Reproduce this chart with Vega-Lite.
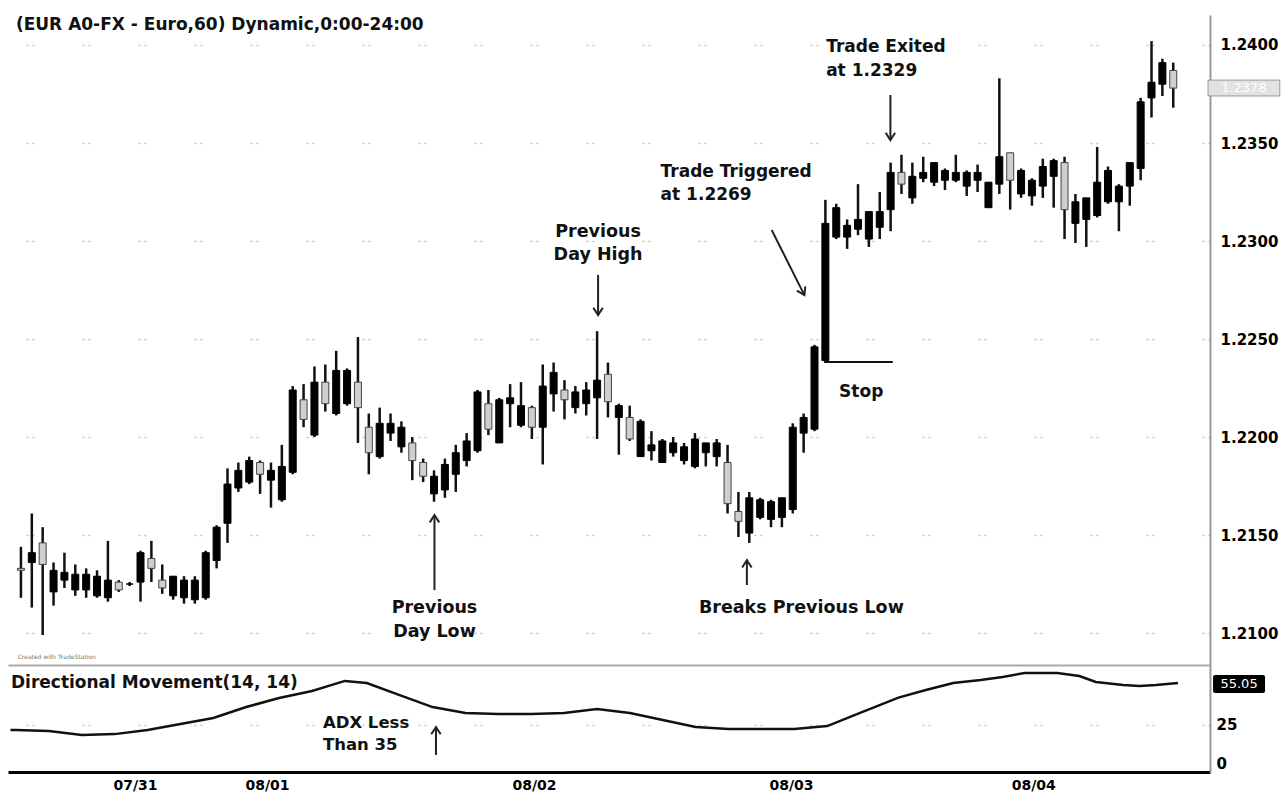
{
  "$schema": "https://vega.github.io/schema/vega-lite/v6.json",
  "background": "white",
  "padding": {"left": 5, "top": 15, "right": 0, "bottom": 0},
  "spacing": 0,
  "config": {
    "view": {"stroke": null},
    "font": "DejaVu Sans",
    "axis": {"labelFont": "DejaVu Sans", "labelFontWeight": "bold", "labelFontSize": 14, "labelColor": "#000", "ticks": false, "tickSize": 0}
  },
  "datasets": {
    "candles": [
      {"i":0,"open":1.2133,"high":1.2144,"low":1.2118,"close":1.2132},
      {"i":1,"open":1.2136,"high":1.2161,"low":1.2113,"close":1.2141},
      {"i":2,"open":1.2146,"high":1.2154,"low":1.2099,"close":1.2135},
      {"i":3,"open":1.2121,"high":1.2136,"low":1.2114,"close":1.2132},
      {"i":4,"open":1.2127,"high":1.2141,"low":1.2123,"close":1.2131},
      {"i":5,"open":1.2122,"high":1.2135,"low":1.2119,"close":1.2130},
      {"i":6,"open":1.2122,"high":1.2133,"low":1.2118,"close":1.2130},
      {"i":7,"open":1.2119,"high":1.2132,"low":1.2118,"close":1.2129},
      {"i":8,"open":1.2118,"high":1.2147,"low":1.2116,"close":1.2127},
      {"i":9,"open":1.2126,"high":1.2127,"low":1.2121,"close":1.2122},
      {"i":10,"open":1.2125,"high":1.2126,"low":1.2124,"close":1.2125},
      {"i":11,"open":1.2126,"high":1.2142,"low":1.2116,"close":1.2141},
      {"i":12,"open":1.2138,"high":1.2147,"low":1.2126,"close":1.2133},
      {"i":13,"open":1.2127,"high":1.2135,"low":1.2120,"close":1.2123},
      {"i":14,"open":1.2119,"high":1.2129,"low":1.2117,"close":1.2129},
      {"i":15,"open":1.2118,"high":1.2129,"low":1.2115,"close":1.2127},
      {"i":16,"open":1.2117,"high":1.2129,"low":1.2115,"close":1.2127},
      {"i":17,"open":1.2118,"high":1.2142,"low":1.2117,"close":1.2141},
      {"i":18,"open":1.2137,"high":1.2155,"low":1.2133,"close":1.2154},
      {"i":19,"open":1.2156,"high":1.2184,"low":1.2146,"close":1.2176},
      {"i":20,"open":1.2174,"high":1.2187,"low":1.2172,"close":1.2183},
      {"i":21,"open":1.2177,"high":1.2190,"low":1.2176,"close":1.2188},
      {"i":22,"open":1.2187,"high":1.2188,"low":1.2171,"close":1.2181},
      {"i":23,"open":1.2178,"high":1.2187,"low":1.2164,"close":1.2183},
      {"i":24,"open":1.2168,"high":1.2196,"low":1.2167,"close":1.2185},
      {"i":25,"open":1.2182,"high":1.2226,"low":1.2181,"close":1.2224},
      {"i":26,"open":1.2219,"high":1.2227,"low":1.2205,"close":1.2209},
      {"i":27,"open":1.2201,"high":1.2236,"low":1.2200,"close":1.2228},
      {"i":28,"open":1.2228,"high":1.2237,"low":1.2213,"close":1.2217},
      {"i":29,"open":1.2212,"high":1.2244,"low":1.2211,"close":1.2234},
      {"i":30,"open":1.2217,"high":1.2235,"low":1.2216,"close":1.2234},
      {"i":31,"open":1.2228,"high":1.2251,"low":1.2197,"close":1.2215},
      {"i":32,"open":1.2205,"high":1.2212,"low":1.2181,"close":1.2192},
      {"i":33,"open":1.2190,"high":1.2215,"low":1.2189,"close":1.2207},
      {"i":34,"open":1.2202,"high":1.2212,"low":1.2198,"close":1.2207},
      {"i":35,"open":1.2195,"high":1.2208,"low":1.2192,"close":1.2205},
      {"i":36,"open":1.2197,"high":1.2200,"low":1.2178,"close":1.2188},
      {"i":37,"open":1.2187,"high":1.2189,"low":1.2177,"close":1.2180},
      {"i":38,"open":1.2171,"high":1.2183,"low":1.2167,"close":1.2180},
      {"i":39,"open":1.2173,"high":1.2189,"low":1.2169,"close":1.2186},
      {"i":40,"open":1.2181,"high":1.2196,"low":1.2172,"close":1.2192},
      {"i":41,"open":1.2188,"high":1.2202,"low":1.2185,"close":1.2198},
      {"i":42,"open":1.2193,"high":1.2224,"low":1.2192,"close":1.2223},
      {"i":43,"open":1.2217,"high":1.2224,"low":1.2201,"close":1.2204},
      {"i":44,"open":1.2197,"high":1.2220,"low":1.2197,"close":1.2219},
      {"i":45,"open":1.2217,"high":1.2227,"low":1.2205,"close":1.2220},
      {"i":46,"open":1.2206,"high":1.2228,"low":1.2205,"close":1.2216},
      {"i":47,"open":1.2215,"high":1.2216,"low":1.2199,"close":1.2205},
      {"i":48,"open":1.2205,"high":1.2237,"low":1.2186,"close":1.2226},
      {"i":49,"open":1.2222,"high":1.2238,"low":1.2213,"close":1.2233},
      {"i":50,"open":1.2224,"high":1.2229,"low":1.2209,"close":1.2219},
      {"i":51,"open":1.2215,"high":1.2226,"low":1.2212,"close":1.2223},
      {"i":52,"open":1.2217,"high":1.2228,"low":1.2211,"close":1.2224},
      {"i":53,"open":1.2220,"high":1.2254,"low":1.2199,"close":1.2229},
      {"i":54,"open":1.2232,"high":1.2238,"low":1.2210,"close":1.2218},
      {"i":55,"open":1.2210,"high":1.2217,"low":1.2191,"close":1.2216},
      {"i":56,"open":1.2210,"high":1.2216,"low":1.2198,"close":1.2199},
      {"i":57,"open":1.2190,"high":1.2209,"low":1.2190,"close":1.2208},
      {"i":58,"open":1.2193,"high":1.2203,"low":1.2188,"close":1.2196},
      {"i":59,"open":1.2187,"high":1.2199,"low":1.2187,"close":1.2198},
      {"i":60,"open":1.2192,"high":1.2200,"low":1.2190,"close":1.2197},
      {"i":61,"open":1.2188,"high":1.2197,"low":1.2186,"close":1.2195},
      {"i":62,"open":1.2185,"high":1.2202,"low":1.2184,"close":1.2199},
      {"i":63,"open":1.2192,"high":1.2197,"low":1.2185,"close":1.2197},
      {"i":64,"open":1.2190,"high":1.2199,"low":1.2185,"close":1.2197},
      {"i":65,"open":1.2187,"high":1.2196,"low":1.2161,"close":1.2166},
      {"i":66,"open":1.2162,"high":1.2172,"low":1.2149,"close":1.2157},
      {"i":67,"open":1.2151,"high":1.2172,"low":1.2146,"close":1.2169},
      {"i":68,"open":1.2159,"high":1.2169,"low":1.2158,"close":1.2168},
      {"i":69,"open":1.2158,"high":1.2168,"low":1.2154,"close":1.2167},
      {"i":70,"open":1.2159,"high":1.2169,"low":1.2154,"close":1.2169},
      {"i":71,"open":1.2163,"high":1.2207,"low":1.2161,"close":1.2205},
      {"i":72,"open":1.2202,"high":1.2212,"low":1.2192,"close":1.2210},
      {"i":73,"open":1.2204,"high":1.2247,"low":1.2203,"close":1.2246},
      {"i":74,"open":1.2239,"high":1.2321,"low":1.2238,"close":1.2309},
      {"i":75,"open":1.2302,"high":1.2319,"low":1.2301,"close":1.2317},
      {"i":76,"open":1.2302,"high":1.2311,"low":1.2296,"close":1.2308},
      {"i":77,"open":1.2306,"high":1.2329,"low":1.2303,"close":1.2311},
      {"i":78,"open":1.2301,"high":1.2315,"low":1.2297,"close":1.2315},
      {"i":79,"open":1.2307,"high":1.2325,"low":1.2301,"close":1.2315},
      {"i":80,"open":1.2316,"high":1.2340,"low":1.2305,"close":1.2335},
      {"i":81,"open":1.2335,"high":1.2344,"low":1.2324,"close":1.2329},
      {"i":82,"open":1.2322,"high":1.2340,"low":1.2319,"close":1.2333},
      {"i":83,"open":1.2332,"high":1.2343,"low":1.2330,"close":1.2335},
      {"i":84,"open":1.2330,"high":1.2340,"low":1.2328,"close":1.2340},
      {"i":85,"open":1.2331,"high":1.2337,"low":1.2326,"close":1.2336},
      {"i":86,"open":1.2331,"high":1.2344,"low":1.2330,"close":1.2335},
      {"i":87,"open":1.2328,"high":1.2336,"low":1.2323,"close":1.2335},
      {"i":88,"open":1.2331,"high":1.2339,"low":1.2325,"close":1.2335},
      {"i":89,"open":1.2317,"high":1.2330,"low":1.2317,"close":1.2330},
      {"i":90,"open":1.2329,"high":1.2383,"low":1.2324,"close":1.2343},
      {"i":91,"open":1.2345,"high":1.2345,"low":1.2316,"close":1.2331},
      {"i":92,"open":1.2324,"high":1.2337,"low":1.2322,"close":1.2336},
      {"i":93,"open":1.2323,"high":1.2332,"low":1.2318,"close":1.2331},
      {"i":94,"open":1.2328,"high":1.2342,"low":1.2322,"close":1.2338},
      {"i":95,"open":1.2333,"high":1.2342,"low":1.2317,"close":1.2341},
      {"i":96,"open":1.2340,"high":1.2343,"low":1.2301,"close":1.2316},
      {"i":97,"open":1.2309,"high":1.2324,"low":1.2299,"close":1.2320},
      {"i":98,"open":1.2311,"high":1.2322,"low":1.2297,"close":1.2322},
      {"i":99,"open":1.2313,"high":1.2348,"low":1.2312,"close":1.2330},
      {"i":100,"open":1.2320,"high":1.2338,"low":1.2319,"close":1.2336},
      {"i":101,"open":1.2320,"high":1.2329,"low":1.2305,"close":1.2328},
      {"i":102,"open":1.2328,"high":1.2340,"low":1.2318,"close":1.2340},
      {"i":103,"open":1.2337,"high":1.2373,"low":1.2331,"close":1.2371},
      {"i":104,"open":1.2373,"high":1.2402,"low":1.2363,"close":1.2381},
      {"i":105,"open":1.2380,"high":1.2393,"low":1.2374,"close":1.2391},
      {"i":106,"open":1.2387,"high":1.2391,"low":1.2368,"close":1.2378}
    ],
    "adx": [
      {"i":-0.5,"adx":21.7},{"i":0,"adx":21.7},{"i":3,"adx":21},{"i":6,"adx":18.4},{"i":9,"adx":19},
      {"i":12,"adx":21.7},{"i":15,"adx":25.7},{"i":18,"adx":29.6},{"i":21,"adx":36.8},{"i":24,"adx":42.8},
      {"i":27,"adx":47.4},{"i":30,"adx":54},{"i":32,"adx":52.6},{"i":35,"adx":44.7},{"i":38,"adx":36.8},
      {"i":41,"adx":32.9},{"i":44,"adx":32.2},{"i":47,"adx":32.2},{"i":50,"adx":32.9},{"i":53,"adx":35.5},
      {"i":56,"adx":32.9},{"i":59,"adx":28.3},{"i":62,"adx":23.7},{"i":65,"adx":22.4},{"i":68,"adx":22.4},
      {"i":71,"adx":22.4},{"i":73,"adx":23.7},{"i":74,"adx":24.3},{"i":77,"adx":33},{"i":80.5,"adx":43},
      {"i":83,"adx":48},{"i":85.5,"adx":52.6},{"i":88,"adx":54.6},{"i":90,"adx":56.6},{"i":92,"adx":59.2},
      {"i":95,"adx":59.2},{"i":97,"adx":57.2},{"i":98.5,"adx":53.3},{"i":101,"adx":51.3},{"i":102.5,"adx":50.7},
      {"i":104,"adx":51.3},{"i":106,"adx":52.6}
    ],
    "arrowsTop": [
      {"i":53.09,"p":1.22827,"i2":53.09,"p2":1.22622,"dir":"down"},
      {"i":69.06,"p":1.23056,"i2":72.07,"p2":1.22724,"dir":"diag"},
      {"i":79.98,"p":1.23745,"i2":79.98,"p2":1.23515,"dir":"down"},
      {"i":38.04,"p":1.21219,"i2":38.04,"p2":1.21602,"dir":"up"},
      {"i":66.78,"p":1.21245,"i2":66.78,"p2":1.21372,"dir":"up"}
    ],
    "notesCenter": [
      {"i":53.09,"p":1.23046,"text":"Previous"},
      {"i":53.09,"p":1.22929,"text":"Day High"},
      {"i":38.04,"p":1.21128,"text":"Previous"},
      {"i":38.04,"p":1.21005,"text":"Day Low"},
      {"i":71.79,"p":1.21128,"text":"Breaks Previous Low"}
    ],
    "notesLeft": [
      {"i":58.84,"p":1.23352,"text":"Trade Triggered"},
      {"i":58.84,"p":1.23235,"text":"at 1.2269"},
      {"i":74.07,"p":1.2399,"text":"Trade Exited"},
      {"i":74.07,"p":1.23867,"text":"at 1.2329"},
      {"i":75.26,"p":1.2223,"text":"Stop"}
    ]
  },
  "vconcat": [
    {
      "width": 1202,
      "height": 650,
      "layer": [
        {
          "data": {"name": "candles"},
          "mark": {"type": "rule", "strokeWidth": 2.5, "color": "#111"},
          "encoding": {
            "x": {"field": "i", "type": "quantitative", "title": null,
                  "scale": {"domain": [-0.73, 108.92], "nice": false, "zero": false},
                  "axis": {"labels": false, "ticks": false, "grid": false, "domainColor": "#aaa", "domainWidth": 2}},
            "y": {"field": "low", "type": "quantitative", "title": null,
                  "scale": {"domain": [1.20837, 1.24153], "nice": false, "zero": false},
                  "axis": {"orient": "right", "values": [1.21, 1.215, 1.22, 1.225, 1.23, 1.235, 1.24], "format": ".4f",
                           "labelFontSize": 15, "domainColor": "#999", "domainWidth": 2, "labelPadding": 10,
                           "grid": true, "gridColor": "#c4c4c4", "gridDash": [2, 4, 2, 48], "gridWidth": 1.5}},
            "y2": {"field": "high"}
          }
        },
        {
          "data": {"name": "candles"},
          "mark": {"type": "bar", "width": 7, "strokeWidth": 1},
          "encoding": {
            "x": {"field": "i", "type": "quantitative", "title": null},
            "y": {"field": "open", "type": "quantitative", "title": null},
            "y2": {"field": "close"},
            "fill": {"condition": {"test": "datum.close >= datum.open", "value": "#000"}, "value": "#cfcfcf"},
            "stroke": {"condition": {"test": "datum.close >= datum.open", "value": "#000"}, "value": "#444"}
          }
        },
        {
          "data": {"values": [{"i": 73.9, "i2": 80.2, "p": 1.22383}]},
          "mark": {"type": "rule", "strokeWidth": 2, "color": "#111"},
          "encoding": {
            "x": {"field": "i", "type": "quantitative", "title": null},
            "x2": {"field": "i2"},
            "y": {"field": "p", "type": "quantitative", "title": null}
          }
        },
        {
          "data": {"name": "arrowsTop"},
          "mark": {"type": "rule", "strokeWidth": 2, "color": "#222"},
          "encoding": {
            "x": {"field": "i", "type": "quantitative", "title": null},
            "x2": {"field": "i2"},
            "y": {"field": "p", "type": "quantitative", "title": null},
            "y2": {"field": "p2"}
          }
        },
        {
          "data": {"name": "arrowsTop"},
          "transform": [{"filter": "datum.dir == 'down'"}],
          "mark": {"type": "point", "shape": "M -0.9 -1.4 L 0 0 L 0.9 -1.4", "filled": false, "size": 110, "strokeWidth": 2, "color": "#222", "opacity": 1},
          "encoding": {
            "x": {"field": "i2", "type": "quantitative", "title": null},
            "y": {"field": "p2", "type": "quantitative", "title": null}
          }
        },
        {
          "data": {"name": "arrowsTop"},
          "transform": [{"filter": "datum.dir == 'up'"}],
          "mark": {"type": "point", "shape": "M -0.9 1.4 L 0 0 L 0.9 1.4", "filled": false, "size": 110, "strokeWidth": 2, "color": "#222", "opacity": 1},
          "encoding": {
            "x": {"field": "i2", "type": "quantitative", "title": null},
            "y": {"field": "p2", "type": "quantitative", "title": null}
          }
        },
        {
          "data": {"name": "arrowsTop"},
          "transform": [{"filter": "datum.dir == 'diag'"}],
          "mark": {"type": "point", "shape": "M -0.9 -1.4 L 0 0 L 0.9 -1.4", "filled": false, "size": 110, "strokeWidth": 2, "color": "#222", "opacity": 1, "angle": 333},
          "encoding": {
            "x": {"field": "i2", "type": "quantitative", "title": null},
            "y": {"field": "p2", "type": "quantitative", "title": null}
          }
        },
        {
          "data": {"name": "notesCenter"},
          "mark": {"type": "text", "align": "center", "baseline": "middle", "font": "DejaVu Sans", "fontWeight": "bold", "fontSize": 17.5, "color": "#111"},
          "encoding": {
            "x": {"field": "i", "type": "quantitative", "title": null},
            "y": {"field": "p", "type": "quantitative", "title": null},
            "text": {"field": "text"}
          }
        },
        {
          "data": {"name": "notesLeft"},
          "mark": {"type": "text", "align": "left", "baseline": "middle", "font": "DejaVu Sans", "fontWeight": "bold", "fontSize": 17, "color": "#111"},
          "encoding": {
            "x": {"field": "i", "type": "quantitative", "title": null},
            "y": {"field": "p", "type": "quantitative", "title": null},
            "text": {"field": "text"}
          }
        },
        {
          "data": {"values": [{"i": -0.46, "p": 1.2410, "text": "(EUR A0-FX - Euro,60) Dynamic,0:00-24:00"}]},
          "mark": {"type": "text", "align": "left", "baseline": "middle", "font": "DejaVu Sans", "fontWeight": "bold", "fontSize": 17, "color": "#111"},
          "encoding": {
            "x": {"field": "i", "type": "quantitative", "title": null},
            "y": {"field": "p", "type": "quantitative", "title": null},
            "text": {"field": "text"}
          }
        },
        {
          "data": {"values": [{"i": -0.3, "p": 1.20878, "text": "Created with TradeStation"}]},
          "mark": {"type": "text", "align": "left", "baseline": "middle", "fontSize": 6, "color": "#777"},
          "encoding": {
            "x": {"field": "i", "type": "quantitative", "title": null},
            "y": {"field": "p", "type": "quantitative", "title": null},
            "text": {"field": "text"}
          }
        },
        {
          "data": {"values": [{"i": 109.2, "i2": 115.8, "p": 1.23821, "p2": 1.2374}]},
          "mark": {"type": "rect", "fill": "#e2e2e2", "stroke": "#999", "strokeWidth": 1, "clip": false},
          "encoding": {
            "x": {"field": "i", "type": "quantitative", "title": null},
            "x2": {"field": "i2"},
            "y": {"field": "p", "type": "quantitative", "title": null},
            "y2": {"field": "p2"}
          }
        },
        {
          "data": {"values": [{"i": 112.5, "p": 1.2378, "text": "1.2378"}]},
          "mark": {"type": "text", "align": "center", "baseline": "middle", "fontSize": 13, "color": "#fff", "clip": false},
          "encoding": {
            "x": {"field": "i", "type": "quantitative", "title": null},
            "y": {"field": "p", "type": "quantitative", "title": null},
            "text": {"field": "text"}
          }
        }
      ]
    },
    {
      "width": 1202,
      "height": 107,
      "layer": [
        {
          "data": {"name": "adx"},
          "mark": {"type": "line", "strokeWidth": 2.5, "color": "#111"},
          "encoding": {
            "x": {"field": "i", "type": "quantitative", "title": null,
                  "scale": {"domain": [-0.73, 108.92], "nice": false, "zero": false},
                  "axis": {"values": [10.86, 22.9, 47.25, 70.7, 92.8],
                           "labelExpr": "datum.value < 15 ? '07/31' : datum.value < 30 ? '08/01' : datum.value < 60 ? '08/02' : datum.value < 80 ? '08/03' : '08/04'",
                           "domainColor": "#000", "domainWidth": 3, "labelPadding": 6, "grid": false}},
            "y": {"field": "adx", "type": "quantitative", "title": null,
                  "scale": {"domain": [-5.92, 64.47], "nice": false, "zero": false},
                  "axis": {"orient": "right", "values": [0, 25], "labelFontSize": 15, "domainColor": "#999", "domainWidth": 2, "labelPadding": 6,
                           "grid": true, "gridColor": "#c4c4c4", "gridDash": [2, 4, 2, 48], "gridWidth": 1.5,
                           "gridOpacity": {"condition": {"test": "datum.value == 25", "value": 1}, "value": 0}}}
          }
        },
        {
          "data": {"values": [{"i": 38.31, "a": 5.3, "a2": 23.7}]},
          "mark": {"type": "rule", "strokeWidth": 2, "color": "#222"},
          "encoding": {
            "x": {"field": "i", "type": "quantitative", "title": null},
            "y": {"field": "a", "type": "quantitative", "title": null},
            "y2": {"field": "a2"}
          }
        },
        {
          "data": {"values": [{"i": 38.31, "a": 23.7}]},
          "mark": {"type": "point", "shape": "M -0.9 1.4 L 0 0 L 0.9 1.4", "filled": false, "size": 110, "strokeWidth": 2, "color": "#222", "opacity": 1},
          "encoding": {
            "x": {"field": "i", "type": "quantitative", "title": null},
            "y": {"field": "a", "type": "quantitative", "title": null}
          }
        },
        {
          "data": {"values": [
            {"i": -0.46, "a": 52.6, "text": "Directional Movement(14, 14)"}
          ]},
          "mark": {"type": "text", "align": "left", "baseline": "middle", "font": "DejaVu Sans", "fontWeight": "bold", "fontSize": 17, "color": "#111"},
          "encoding": {
            "x": {"field": "i", "type": "quantitative", "title": null},
            "y": {"field": "a", "type": "quantitative", "title": null},
            "text": {"field": "text"}
          }
        },
        {
          "data": {"values": [
            {"i": 28.0, "a": 26.3, "text": "ADX Less"},
            {"i": 28.0, "a": 11.8, "text": "Than 35"}
          ]},
          "mark": {"type": "text", "align": "left", "baseline": "middle", "font": "DejaVu Sans", "fontWeight": "bold", "fontSize": 16.5, "color": "#111"},
          "encoding": {
            "x": {"field": "i", "type": "quantitative", "title": null},
            "y": {"field": "a", "type": "quantitative", "title": null},
            "text": {"field": "text"}
          }
        },
        {
          "data": {"values": [{"i": 109.2, "i2": 113.94, "a": 57.9, "a2": 46}]},
          "mark": {"type": "rect", "fill": "#000", "clip": false, "cornerRadius": 2},
          "encoding": {
            "x": {"field": "i", "type": "quantitative", "title": null},
            "x2": {"field": "i2"},
            "y": {"field": "a", "type": "quantitative", "title": null},
            "y2": {"field": "a2"}
          }
        },
        {
          "data": {"values": [{"i": 111.57, "a": 52, "text": "55.05"}]},
          "mark": {"type": "text", "align": "center", "baseline": "middle", "fontSize": 13, "color": "#fff", "clip": false},
          "encoding": {
            "x": {"field": "i", "type": "quantitative", "title": null},
            "y": {"field": "a", "type": "quantitative", "title": null},
            "text": {"field": "text"}
          }
        }
      ]
    }
  ]
}
